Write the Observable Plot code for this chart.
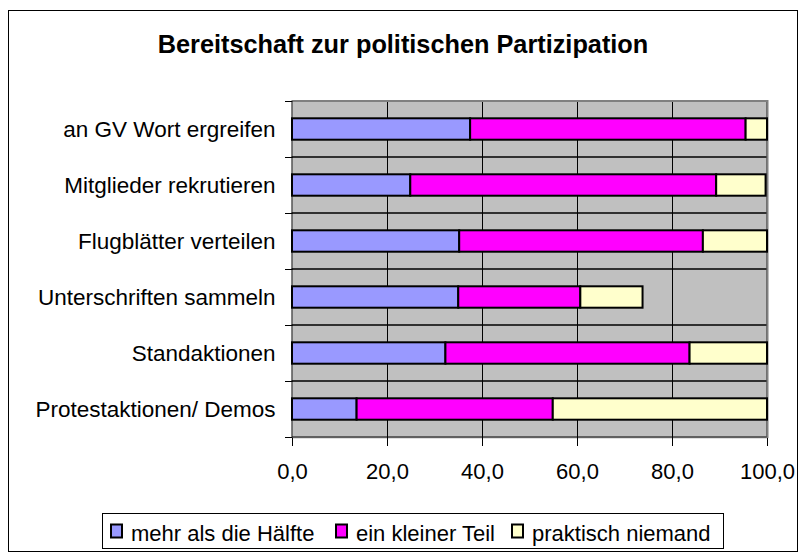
<!DOCTYPE html>
<html><head><meta charset="utf-8">
<script src="https://cdn.jsdelivr.net/npm/d3@7"></script>
<script src="https://cdn.jsdelivr.net/npm/@observablehq/plot@0.6"></script>
<style>body{margin:0;background:#fff} svg{display:block}</style>
</head><body><div id="chart"></div>
<script>
const title = "Bereitschaft zur politischen Partizipation";
const categories = ["an GV Wort ergreifen","Mitglieder rekrutieren","Flugblätter verteilen","Unterschriften sammeln","Standaktionen","Protestaktionen/ Demos"];
const seriesNames = ["mehr als die Hälfte","ein kleiner Teil","praktisch niemand"];
const seriesColors = ["#9999FF","#FF00FF","#FFFFCC"];
const mehrAlsDieHaelfte = [37.5,24.9,35.2,35.0,32.3,13.6];
const einKleinerTeil = [58.0,64.4,51.3,25.7,51.4,41.3];
const praktischNiemand = [4.5,10.4,13.5,13.1,16.3,45.1];
const xTicks = [0,20,40,60,80,100];
const gridTicks = [20,40,60,80];

const seriesValues = [mehrAlsDieHaelfte, einKleinerTeil, praktischNiemand];
const data = [];
categories.forEach((c,i)=> seriesNames.forEach((s,j)=> data.push({category:c, series:s, value: seriesValues[j][i]})));
const font = "'Liberation Sans', Arial, sans-serif";

const plot = Plot.plot({
  width: 807, height: 552,
  marginLeft: 292, marginRight: 40, marginTop: 100, marginBottom: 114,
  style: {fontFamily: font, fontSize: "22px", color:"#000", background:"#fff", overflow:"visible"},
  x: {domain:[0,100]},
  y: {domain: categories, padding: 0},
  color: {domain: seriesNames, range: seriesColors},
  marks: [
    Plot.frame({fill:"#C0C0C0", stroke:"none"}),
    Plot.gridX({ticks: gridTicks, stroke:"#000", strokeOpacity:1}),
    Plot.barX(categories, {x1:0, x2:100, y: d=>d, fill:"none", stroke:"#000", strokeWidth:1}),
    Plot.ruleX([100], {stroke:"#808080", strokeWidth:2}),
    Plot.barX(data, {x:"value", y:"category", fill:"series", stroke:"#000", strokeWidth:2, insetTop:17.3, insetBottom:17.3}),
    Plot.axisX({ticks: xTicks, tickSize: 8, tickPadding: 17, tickFormat: d=> d.toFixed(1).replace(".",","), label:null, fontSize: 22}),
    Plot.axisY({tickSize:0, tickPadding:17, label:null, fontSize:22.5})
  ]
});
document.getElementById("chart").appendChild(plot);

const svg = d3.select(plot);
const xs = plot.scale("x"), ys = plot.scale("y");
const x0 = xs.apply(0), x100 = xs.apply(100);
const yTop = ys.apply(categories[0]);
// top border of plot area
svg.append("line").attr("x1", x0).attr("x2", x100 + 1).attr("y1", yTop).attr("y2", yTop)
  .attr("stroke", "#808080").attr("stroke-width", 2);
// category boundary ticks
const bounds = categories.map(c => ys.apply(c)).concat([ys.apply(categories[categories.length-1]) + ys.bandwidth]);
svg.append("g").selectAll("line").data(bounds).join("line")
  .attr("x1", x0 - 7).attr("x2", x0 + 0.5).attr("y1", d => Math.round(d) + 0.5).attr("y2", d => Math.round(d) + 0.5)
  .attr("stroke", "#000");
// outer border
svg.insert("rect", ":first-child").attr("x", 8.5).attr("y", 10.5).attr("width", 789).attr("height", 541)
  .attr("fill", "#fff").attr("stroke", "#000");
// title
svg.append("text").attr("x", 403).attr("y", 53).attr("text-anchor", "middle")
  .attr("font-family", font).attr("font-weight", "bold").attr("font-size", 25.3).attr("fill", "#000").text(title);
// legend
const lg = svg.append("g").attr("text-anchor", "start");
lg.append("rect").attr("x", 102.5).attr("y", 513.5).attr("width", 621).attr("height", 35)
  .attr("fill", "#fff").attr("stroke", "#000");
const itemX = [111, 336, 512];
seriesNames.forEach((s, i) => {
  lg.append("rect").attr("x", itemX[i]).attr("y", 524.5).attr("width", 11).attr("height", 13)
    .attr("fill", seriesColors[i]).attr("stroke", "#000").attr("stroke-width", 2);
  lg.append("text").attr("x", itemX[i] + 20).attr("y", 541).attr("text-anchor", "start")
    .attr("font-family", font).attr("font-size", 22).attr("fill", "#000").text(s);
});
</script></body></html>
